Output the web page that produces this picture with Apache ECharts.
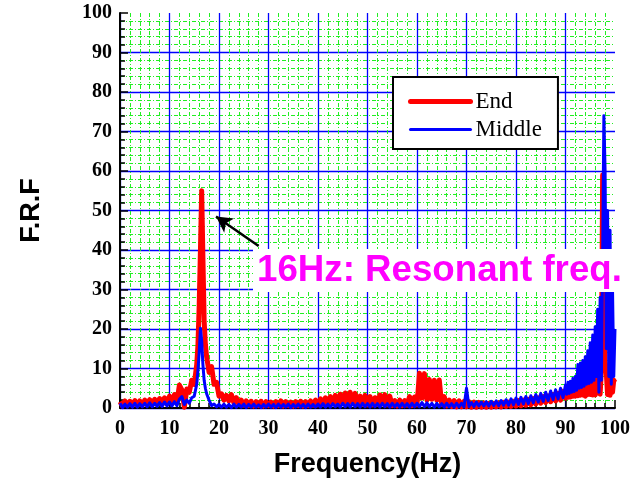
<!DOCTYPE html>
<html><head><meta charset="utf-8">
<script src="https://cdn.jsdelivr.net/npm/echarts@6/dist/echarts.min.js"></script>
<style>html,body{margin:0;padding:0;background:#fff}#c{width:644px;height:484px}</style>
</head><body><div id="c"></div>
<script>
// Frequency samples (Hz)
const freqHz = [
  0,0.5,1,1.5,2,2.5,3,3.5,4,4.5,
  5,5.5,6,6.5,7,7.5,8,8.5,9,9.5,
  10,10.5,11,11.5,12,12.5,13,13.5,14,14.5,
  15,15.5,15.75,16,16.25,16.5,16.75,17,17.25,17.5,18,18.5,19,19.5,
  20,20.5,21,21.5,22,22.5,23,23.5,24,24.5,
  25,25.5,26,26.5,27,27.5,28,28.5,29,29.5,
  30,30.5,31,31.5,32,32.5,33,33.5,34,34.5,
  35,35.5,36,36.5,37,37.5,38,38.5,39,39.5,
  40,40.5,41,41.5,42,42.5,43,43.5,44,44.5,
  45,45.5,46,46.5,47,47.5,48,48.5,49,49.5,
  50,50.5,51,51.5,52,52.5,53,53.5,54,54.5,
  55,55.5,56,56.5,57,57.5,58,58.5,59,59.5,
  60,60.5,61,61.5,62,62.5,63,63.5,64,64.5,
  65,65.5,66,66.5,67,67.5,68,68.5,69,69.5,
  70,70.5,71,71.5,72,72.5,73,73.5,74,74.5,
  75,75.5,76,76.5,77,77.5,78,78.5,79,79.5,
  80,80.5,81,81.5,82,82.5,83,83.5,84,84.5,
  85,85.5,86,86.5,87,87.5,88,88.5,89,89.5,
  90,90.25,90.5,90.75,91,91.25,91.5,91.75,92,92.25,92.5,92.75,93,93.25,93.5,93.75,
  94,94.25,94.5,94.75,95,95.25,95.5,95.75,96,96.25,96.5,96.75,97,97.25,97.5,97.75,
  98,98.25,98.5,98.75,99,99.25,99.5,99.75,100
];
// F.R.F measured at the End
const endFRF = [
  1.6,0.5,1.8,0.6,1.7,0.6,1.9,0.7,1.8,0.7,
  2.0,0.8,2.1,0.8,2.2,0.9,2.4,0.9,2.6,1.0,
  3.0,1.2,3.4,1.4,5.8,4.6,0.2,4.8,4.0,7.0,
  6.0,11,16,26,40,55,38,22,16,13,9,10.5,6,6.5,
  3.0,3.6,2.0,3.2,1.8,3.4,1.3,2.6,0.9,2.0,
  0.7,1.8,0.6,1.7,0.5,1.6,0.6,1.7,0.5,1.6,
  0.6,1.5,0.5,1.6,0.6,1.8,0.5,1.6,0.6,1.5,
  0.5,1.6,0.6,1.7,0.5,1.6,0.6,1.8,0.7,2.0,
  0.8,2.3,0.9,2.6,1.0,2.9,1.1,3.2,1.0,3.5,
  1.2,3.8,1.1,4.0,1.2,3.7,1.0,3.0,0.9,3.2,
  0.8,2.9,0.8,2.6,0.9,3.3,1.0,3.4,0.8,3.0,
  0.6,1.9,0.5,2.0,0.6,1.9,0.7,2.9,0.6,2.8,
  0.8,8.8,2.5,8.7,2.0,7.2,2.2,7.0,2.0,7.1,
  0.8,2.9,0.5,2.0,0.4,1.9,0.3,1.8,0.3,1.7,
  0.3,1.6,0.2,1.5,0.2,1.4,0.2,1.3,0.2,1.2,
  0.2,1.2,0.3,1.3,0.3,1.4,0.4,1.5,0.4,1.7,
  0.5,1.9,0.6,2.0,0.7,2.2,0.8,2.4,1.0,2.6,
  1.2,2.9,1.4,3.1,1.6,3.4,1.8,3.7,2.0,4.2,
  2.5,4.6,2.7,4.8,2.8,5.2,3.0,5.5,3.0,6.5,3.1,6.3,3.2,6.8,3.3,6.6,
  3.0,7.0,3.4,7.2,3.4,7.6,3.3,8.0,3.3,8.5,3.8,9.0,3.5,9.6,59,30,
  12,8.8,3.4,9.0,3.2,8.0,4.0,7.0,6.5
];
// F.R.F measured at the Middle
const middleFRF = [
  1.2,0.1,1.0,0.2,1.1,0.2,1.2,0.2,1.1,0.3,
  1.2,0.3,1.3,0.3,1.2,0.4,1.4,0.4,1.5,0.5,
  1.5,0.5,1.6,0.6,2.2,2.9,0.9,2.0,1.2,2.6,
  3.0,6.0,9.5,14,20.2,17,11,7,5,3.6,2.0,0.6,1.0,0.3,
  0.9,0.2,1.0,0.2,0.9,0.1,1.0,0.2,0.9,0.2,
  1.0,0.1,0.9,0.2,1.0,0.2,0.8,0.1,0.9,0.2,
  1.0,0.2,0.9,0.1,1.0,0.2,0.9,0.2,1.0,0.1,
  0.9,0.2,1.0,0.2,0.9,0.1,1.0,0.2,0.9,0.2,
  1.0,0.2,1.1,0.2,1.0,0.2,1.1,0.3,1.0,0.2,
  1.2,0.3,1.1,0.2,1.2,0.3,1.1,0.2,1.2,0.3,
  1.1,0.2,1.2,0.3,1.1,0.2,1.2,0.3,1.1,0.2,
  1.2,0.3,1.1,0.2,1.2,0.3,1.1,0.2,1.2,0.3,
  1.2,0.3,1.4,0.3,1.3,0.3,1.2,0.2,1.2,0.3,
  1.1,0.2,1.2,0.3,1.1,0.2,1.2,0.3,1.2,0.3,
  5.0,0.4,1.4,0.4,1.5,0.5,1.5,0.5,1.6,0.5,
  1.7,0.6,1.8,0.6,1.9,0.7,2.1,0.7,2.3,0.8,
  2.5,0.9,2.7,1.0,2.9,1.1,3.1,1.3,3.4,1.5,
  3.7,1.7,4.0,1.9,4.3,2.1,4.6,2.3,5.0,2.6,
  5.8,3.5,6.5,3.7,6.8,4.0,7.5,4.2,8.0,4.5,11.0,5.0,11.4,5.2,12.0,5.5,
  13.0,6.0,14.5,6.2,16.5,6.5,18.5,7.0,20.6,8,25,4.0,28,7,38,74,
  60,15,50,8,45,6,30,8,20
];
const seriesNames = ['End','Middle'];
const annotationText = '16Hz: Resonant freq.';

const pair = (vals) => freqHz.map((f, i) => [f, vals[i]]);

const chart = echarts.init(document.getElementById('c'), null, {renderer: 'canvas'});
function makeAxis(extra) {
  return Object.assign({
    type: 'value', min: 0, max: 100, interval: 10,
    axisLine: {show: true, onZero: false, lineStyle: {color: '#000', width: 2}},
    axisTick: {show: true, inside: true, length: 8, lineStyle: {color: '#000', width: 1.5}},
    minorTick: {show: true, splitNumber: 5, length: 5, lineStyle: {color: '#000', width: 1.5}},
    splitLine: {show: true, showMaxLine: false, lineStyle: {color: '#0000ff', width: 1.3}},
    minorSplitLine: {show: true, lineStyle: {color: '#22ee22', width: 1, type: [4, 2, 1, 2]}}
  }, extra);
}
chart.setOption({
  animation: false,
  backgroundColor: '#fff',
  grid: {left: 120, right: 29, top: 13, bottom: 76},
  xAxis: makeAxis({
    name: 'Frequency(Hz)', nameLocation: 'middle', nameGap: 43,
    nameTextStyle: {fontFamily: 'Liberation Sans', fontWeight: 'bold', fontSize: 27, color: '#000'},
    axisLabel: {fontFamily: 'Liberation Serif', fontWeight: 'bold', fontSize: 20, color: '#000', margin: 11}
  }),
  yAxis: makeAxis({
    name: 'F.R.F', nameLocation: 'middle', nameGap: 75, nameRotate: 90,
    nameTextStyle: {fontFamily: 'Liberation Sans', fontWeight: 'bold', fontSize: 27, color: '#000'},
    axisLabel: {fontFamily: 'Liberation Serif', fontWeight: 'bold', fontSize: 20, color: '#000', margin: 8}
  }),
  legend: {
    left: 393, top: 77, orient: 'vertical',
    padding: [13, 16, 8, 15], itemGap: 5, itemWidth: 60, itemHeight: 14,
    backgroundColor: '#fff', borderColor: '#000', borderWidth: 2, borderRadius: 0,
    textStyle: {fontFamily: 'Liberation Serif', fontSize: 23, color: '#000'},
    data: [
      {name: seriesNames[0], lineStyle: {width: 5, color: '#ff0000', cap: 'round'}, itemStyle: {opacity: 0}},
      {name: seriesNames[1], lineStyle: {width: 3, color: '#0000ff', cap: 'round'}, itemStyle: {opacity: 0}}
    ]
  },
  series: [
    {
      name: seriesNames[0], type: 'line', data: pair(endFRF), symbol: 'none', sampling: null,
      lineStyle: {color: '#ff0000', width: 5, join: 'round'}, itemStyle: {color: '#ff0000'}, z: 3,
      markLine: {
        silent: true, symbol: ['none', 'arrow'], symbolSize: [13, 16], animation: false,
        lineStyle: {color: '#000', width: 2.5, type: 'solid'}, label: {show: false},
        data: [[{coord: [28, 41]}, {coord: [19.4, 48.5]}]]
      }
    },
    {
      name: seriesNames[1], type: 'line', data: pair(middleFRF), symbol: 'none', sampling: null,
      lineStyle: {color: '#0000ff', width: 3, join: 'round'}, itemStyle: {color: '#0000ff'}, z: 4
    }
  ],
  graphic: [
    {type: 'rect', z: 100, zlevel: 1, shape: {x: 253, y: 249, width: 374, height: 43}, style: {fill: '#fff'}},
    {type: 'text', z: 101, zlevel: 1, x: 257, y: 271, style: {text: annotationText, fill: '#ff00ff',
      font: 'bold 36.7px "Liberation Sans"', verticalAlign: 'middle'}}
  ]
});
</script></body></html>
